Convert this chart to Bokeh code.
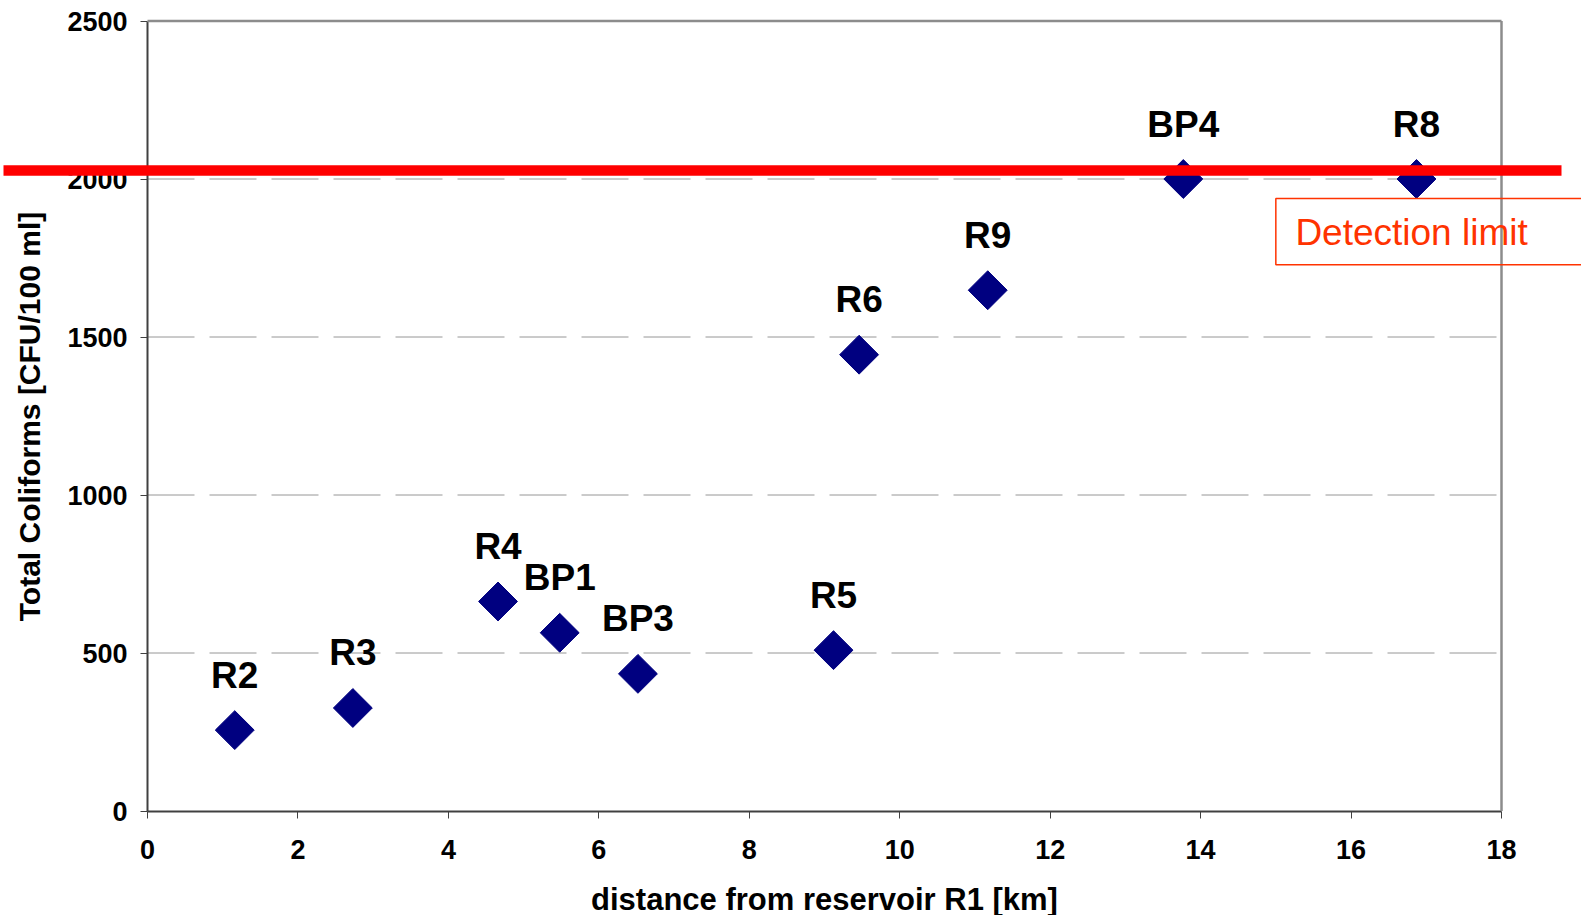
from bokeh.plotting import figure
from bokeh.models import Range1d, FixedTicker, BoxAnnotation, Label, ColumnDataSource
from bokeh.core.properties import value
from bokeh.embed import file_html
from bokeh.resources import INLINE
import math

# ---- data ----
sites = ["R2", "R3", "R4", "BP1", "BP3", "R5", "R6", "R9", "BP4", "R8"]
distance_km = [1.16, 2.73, 4.66, 5.48, 6.52, 9.12, 9.46, 11.17, 13.77, 16.87]
coliforms = [256, 326, 663, 564, 434, 509, 1444, 1648, 2000, 2000]

x_ticks = [0, 2, 4, 6, 8, 10, 12, 14, 16, 18]
y_ticks = [0, 500, 1000, 1500, 2000, 2500]

detection_limit = 2027
detection_text = "Detection limit"

FONT = "Liberation Sans"

# ---- layout (pixels) ----
W, H = 1581, 915
PLOT_L, PLOT_R = 147, 1501      # pixel position of x = 0 and x = 18
PLOT_T, PLOT_B = 20.5, 810.5    # pixel position of y = 2500 and y = 0
xmin, xmax = x_ticks[0], x_ticks[-1]
ymin, ymax = y_ticks[0], y_ticks[-1]
ppx = (PLOT_R - PLOT_L) / (xmax - xmin)
ppy = (PLOT_B - PLOT_T) / (ymax - ymin)

x_range = Range1d(xmin - PLOT_L / ppx, xmin + (W - PLOT_L) / ppx)
y_range = Range1d(ymin - (H - PLOT_B) / ppy, ymax + PLOT_T / ppy)

src = ColumnDataSource(dict(x=distance_km, y=coliforms, name=sites))

p = figure(width=W, height=H, output_backend="svg", toolbar_location=None,
           x_range=x_range, y_range=y_range,
           min_border_left=0, min_border_right=0, min_border_top=0, min_border_bottom=0,
           background_fill_color="white", border_fill_color="white")
p.outline_line_color = None
p.grid.visible = False

# axes placed at the data origin
p.xaxis.fixed_location = 0
p.yaxis.fixed_location = 0
p.xaxis.bounds = (xmin, xmax)
p.yaxis.bounds = (ymin, ymax)
p.xaxis.ticker = FixedTicker(ticks=x_ticks)
p.yaxis.ticker = FixedTicker(ticks=y_ticks)
for ax in (p.xaxis, p.yaxis):
    ax.axis_line_color = "#404040"
    ax.axis_line_width = 2
    ax.major_tick_line_color = "#404040"
    ax.major_tick_line_width = 1
    ax.major_tick_in = 0
    ax.major_tick_out = 7
    ax.minor_tick_line_color = None
    ax.major_label_text_font = FONT
    ax.major_label_text_font_style = "bold"
    ax.major_label_text_font_size = "27px"
    ax.major_label_text_color = "black"
    ax.axis_label_text_font = FONT
    ax.axis_label_text_font_style = "bold"
    ax.axis_label_text_color = "black"

p.xaxis.axis_label = "distance from reservoir R1 [km]"
p.yaxis.axis_label = "Total Coliforms [CFU/100 ml]"
p.xaxis.axis_label_text_font_size = "31px"
p.yaxis.axis_label_text_font_size = "30px"
p.xaxis.major_label_standoff = 22
p.xaxis.axis_label_standoff = 19
p.yaxis.major_label_standoff = 13
p.yaxis.axis_label_standoff = 18

# dashed horizontal grid lines inside the plot area
grid_y = y_ticks[1:-1]
p.segment(x0=[xmin] * len(grid_y), x1=[xmax] * len(grid_y), y0=grid_y, y1=grid_y,
          line_color="#969696", line_width=1, line_dash="47 15", level="underlay")

# points
p.scatter("x", "y", source=src, marker="square", angle=math.pi / 4, size=27.5,
          fill_color="#000080", line_color="#000080")

# point labels
p.text("x", "y", text="name", source=src, text_font=value(FONT), text_font_style="bold",
       text_font_size="37px", text_color="black", text_align="center",
       text_baseline="alphabetic", y_offset=-55)

# detection limit box and text
box = BoxAnnotation(left=15.0, right=25.0, bottom=1729, top=1938,
                    fill_color=None, fill_alpha=0, line_color="#ff3300", line_alpha=1.0,
                    line_width=1.5, level="annotation")
p.add_layout(box)

lbl = Label(x=15.26, y=1831, text=detection_text, text_font=FONT, text_font_size="37px",
            text_color="#ff3300", text_baseline="alphabetic", text_align="left",
            level="annotation")
p.add_layout(lbl)

# top and right frame lines
p.segment(x0=[xmin, xmax], y0=[ymax, ymin], x1=[xmax, xmax], y1=[ymax, ymax],
          line_color="#8c8c8c", line_width=2.5, level="annotation")

# red detection limit line, extending beyond the plot area
red_line = BoxAnnotation(left=xmin - (PLOT_L - 3) / ppx, right=xmin + (1561 - PLOT_L) / ppx,
                         bottom=detection_limit - 16.5, top=detection_limit + 16.5,
                         fill_color="#ff0000", fill_alpha=1.0, line_color=None, level="overlay")
p.add_layout(red_line)

open("out.html", "w").write(file_html(p, INLINE))
